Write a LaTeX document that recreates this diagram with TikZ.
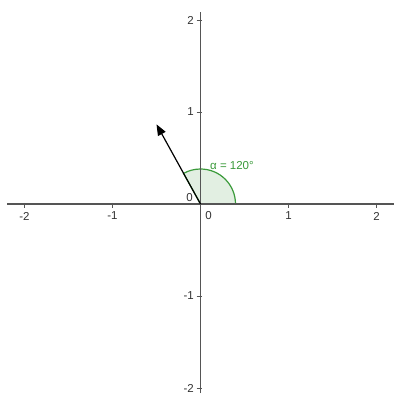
\documentclass[tikz,border=0pt]{standalone}
\usepackage{fontspec}
\setmainfont{Liberation Sans}
\usetikzlibrary{arrows.meta}
\definecolor{axisgray}{HTML}{555555}
\definecolor{anggreen}{HTML}{3A9A3A}
\definecolor{angfill}{HTML}{E2EFE2}
\definecolor{labgray}{HTML}{333333}
\begin{document}
\begin{tikzpicture}[x=88pt,y=92pt,
  axis/.style={draw=axisgray, line width=1.2pt},
  tickmark/.style={draw=axisgray, line width=0.8pt},
  lab/.style={font=\fontsize{11.5}{13}\selectfont, text=labgray, inner sep=0pt},
  vec/.style={draw=black, line width=1.2pt, -{Triangle[length=11pt,width=8.5pt]}},
  sector/.style={fill=angfill, draw=anggreen, line width=1.2pt}
  ]
\useasboundingbox (-200.5pt,-192pt) rectangle (195.5pt,204pt);
\fill[white] (-200.5pt,-192pt) rectangle (195.5pt,204pt);
\coordinate (O) at (0,0);
\coordinate (P) at (-0.5,0.866);
\coordinate (xl) at (-193pt,0);
\coordinate (xr) at (193pt,0);
\coordinate (yb) at (0,-189pt);
\coordinate (yt) at (0,192pt);
% angle sector
\filldraw[sector] (O) -- (35pt,0) arc[start angle=0,end angle=119,radius=35pt] -- cycle;
% axes
\draw[axis] (xl) -- (xr);
\draw[axis] (yb) -- (yt);
\foreach \i in {-2,-1,1,2} {
  \draw[tickmark] ([yshift=1pt]\i,0) -- ([yshift=-4pt]\i,0);
  \draw[tickmark] ([xshift=-4pt]0,\i) -- ([xshift=1pt]0,\i);
}
% tick labels
\node[lab] (xm2) at ([yshift=-12pt]-2,0) {-2};
\node[lab] (xm1) at ([yshift=-12pt]-1,0) {-1};
\node[lab] (xp1) at ([yshift=-12pt]1,0) {1};
\node[lab] (xp2) at ([yshift=-12pt]2,0) {2};
\node[lab, anchor=east] (yp2) at ([xshift=-6.5pt]0,2) {2};
\node[lab, anchor=east] (yp1) at ([xshift=-6.5pt]0,1) {1};
\node[lab, anchor=east] (ym1) at ([xshift=-6.5pt]0,-1) {-1};
\node[lab, anchor=east] (ym2) at ([xshift=-6.5pt]0,-2) {-2};
\node[lab] (o1) at (-11pt,6.5pt) {0};
\node[lab] (o2) at (8pt,-11.5pt) {0};
% vector
\draw[vec] (O) -- (P);
% angle label
\node[lab, text=anggreen, anchor=base west] (alpha) at (9.5pt,34.5pt) {α = 120°};
\end{tikzpicture}
\end{document}
